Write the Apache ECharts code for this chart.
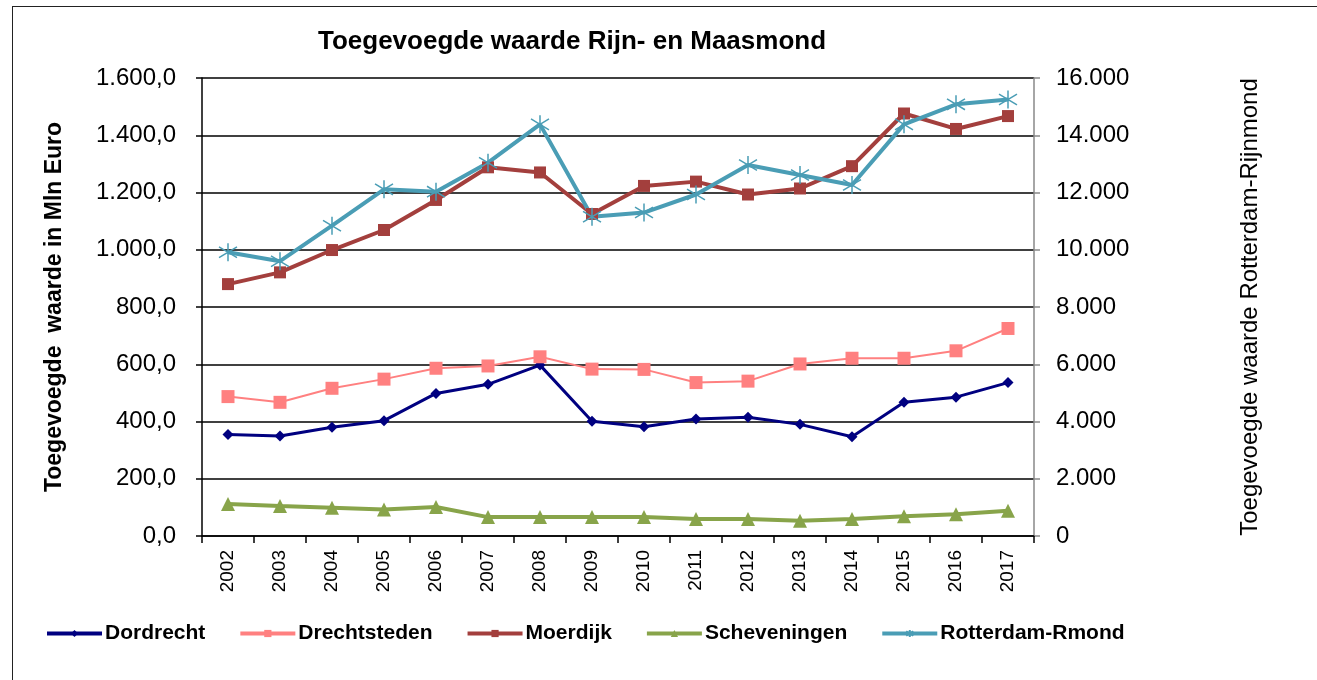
<!DOCTYPE html>
<html>
<head>
<meta charset="utf-8">
<script src="https://cdn.jsdelivr.net/npm/echarts@6/dist/echarts.min.js"></script>
<style>
  html, body { margin: 0; padding: 0; background: #fff; }
  #frame { position: absolute; left: 12px; top: 6px; width: 1320px; height: 700px; border: 1.5px solid #222; box-sizing: border-box; }
  #main { position: absolute; left: 0; top: 0; width: 1317px; height: 680px; }
</style>
</head>
<body>
<div id="frame"></div>
<div id="main"></div>
<script>
  var years = ['2002', '2003', '2004', '2005', '2006', '2007', '2008', '2009',
               '2010', '2011', '2012', '2013', '2014', '2015', '2016', '2017'];
  var dordrecht = [355, 349, 380, 403, 498, 530, 597, 401, 382, 409, 415, 390, 347, 467, 485, 536];
  var drechtsteden = [487, 467, 516, 548, 586, 594, 626, 583, 582, 536, 541, 601, 621, 621, 647, 725];
  var moerdijk = [880, 921, 999, 1069, 1174, 1288, 1270, 1125, 1223, 1238, 1193, 1214, 1292, 1476, 1422, 1467];
  var scheveningen = [112, 105, 99, 93, 101, 66, 66, 66, 66, 59, 59, 53, 59, 69, 76, 88];
  var rotterdam = [9910, 9600, 10840, 12110, 12030, 13040, 14380, 11150, 11300, 11930, 12960, 12610, 12260, 14380, 15080, 15250];

  var star = 'path://M10,0 L10,20 M2,4 L18,16 M2,16 L18,4';

  function nl(v, dec) {
    var s = v.toFixed(dec).split('.');
    var whole = s[0].replace(/\B(?=(\d{3})+(?!\d))/g, '.');
    return dec ? whole + ',' + s[1] : whole;
  }

  var chart = echarts.init(document.getElementById('main'));
  chart.setOption({
    animation: false,
    textStyle: {fontFamily: 'Liberation Sans, Arial, sans-serif'},
    title: {
      text: 'Toegevoegde waarde Rijn- en Maasmond',
      left: 567, top: 24, textAlign: 'center',
      textStyle: {fontSize: 26, fontWeight: 'bold', color: '#000'}
    },
    grid: {left: 202, right: 283, top: 78, bottom: 144},
    legend: {
      left: 45, top: 623, padding: 0, itemWidth: 55, itemHeight: 9, itemGap: 33,
      lineStyle: {width: 4},
      textStyle: {fontSize: 21, fontWeight: 'bold', color: '#000', padding: [0, 0, 0, -2]},
      data: ['Dordrecht', 'Drechtsteden', 'Moerdijk', 'Scheveningen', 'Rotterdam-Rmond']
    },
    xAxis: {
      type: 'category', data: years, boundaryGap: true,
      axisLine: {lineStyle: {color: '#000', width: 1.5}},
      axisTick: {show: true, length: 7, lineStyle: {color: '#000', width: 1.5}},
      axisLabel: {rotate: 90, fontSize: 19, color: '#000', margin: 14}
    },
    yAxis: [{
      type: 'value', min: 0, max: 1600, interval: 200,
      name: 'Toegevoegde  waarde in Mln Euro', nameLocation: 'middle', nameRotate: 90, nameGap: 136,
      nameTextStyle: {fontSize: 23, fontWeight: 'bold', color: '#000'},
      axisLine: {show: true, lineStyle: {color: '#000', width: 1.5}},
      axisTick: {show: true, length: 6, lineStyle: {color: '#000', width: 1.5}},
      axisLabel: {fontSize: 24, color: '#000', margin: 26, formatter: function (v) { return nl(v, 1); }},
      splitLine: {lineStyle: {color: '#000', width: 1.5}}
    }, {
      type: 'value', min: 0, max: 16000, interval: 2000,
      name: 'Toegevoegde waarde Rotterdam-Rijnmond', nameLocation: 'middle', nameRotate: 90, nameGap: 204,
      nameTextStyle: {fontSize: 24, color: '#000'},
      axisLine: {show: true, lineStyle: {color: '#888', width: 1.5}},
      axisTick: {show: true, length: 6, lineStyle: {color: '#888', width: 1.5}},
      axisLabel: {fontSize: 24, color: '#000', margin: 22, formatter: function (v) { return nl(v, 0); }},
      splitLine: {show: false}
    }],
    series: [{
      name: 'Dordrecht', type: 'line', data: dordrecht,
      symbol: 'diamond', symbolSize: 11,
      lineStyle: {color: '#000080', width: 3}, itemStyle: {color: '#000080'}
    }, {
      name: 'Drechtsteden', type: 'line', data: drechtsteden,
      symbol: 'rect', symbolSize: 13,
      lineStyle: {color: '#FF8080', width: 2}, itemStyle: {color: '#FF8080'}
    }, {
      name: 'Moerdijk', type: 'line', data: moerdijk,
      symbol: 'rect', symbolSize: 12,
      lineStyle: {color: '#A33F3D', width: 4}, itemStyle: {color: '#A33F3D'}
    }, {
      name: 'Scheveningen', type: 'line', data: scheveningen,
      symbol: 'triangle', symbolSize: 14,
      lineStyle: {color: '#88A44A', width: 4}, itemStyle: {color: '#88A44A'}
    }, {
      name: 'Rotterdam-Rmond', type: 'line', data: rotterdam, yAxisIndex: 1,
      symbol: star, symbolSize: 18,
      lineStyle: {color: '#4A9DB5', width: 4},
      itemStyle: {color: 'rgba(0,0,0,0)', borderColor: '#4A9DB5', borderWidth: 1.5}
    }]
  });
</script>
</body>
</html>
